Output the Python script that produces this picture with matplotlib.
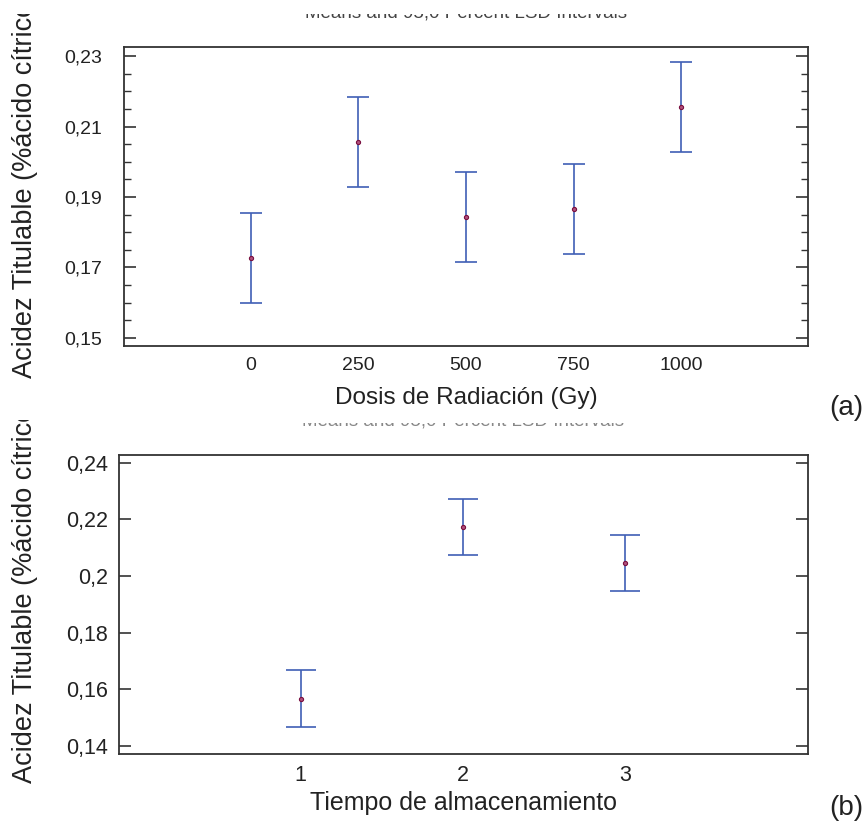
import matplotlib
matplotlib.use("Agg")
import matplotlib.pyplot as plt
from matplotlib.ticker import FuncFormatter, MultipleLocator
from matplotlib.patches import Rectangle

plt.rcParams['font.family'] = ['Liberation Sans', 'DejaVu Sans']

# panel (a): dose
dosis = [0, 250, 500, 750, 1000]
acidez_dosis = [0.1727, 0.2056, 0.1843, 0.1866, 0.2156]
lsd_dosis = [0.0128, 0.0128, 0.0128, 0.0128, 0.0128]
yticks_a = [0.15, 0.17, 0.19, 0.21, 0.23]

# panel (b): storage time
tiempo = [1, 2, 3]
acidez_tiempo = [0.1567, 0.2173, 0.2046]
lsd_tiempo = [0.0100, 0.0100, 0.0100]
yticks_b = [0.14, 0.16, 0.18, 0.20, 0.22, 0.24]

titulo = "Means and 95,0 Percent LSD Intervals"
ylab = "Acidez Titulable (%ácido cítrico)"

W, H = 867, 824
fig = plt.figure(figsize=(W / 100, H / 100), dpi=100)


def box(l, t, r, b):
    return [l / W, 1 - b / H, (r - l) / W, (b - t) / H]


def fx(x):
    return x / W


def fy(y):
    return 1 - y / H


coma = FuncFormatter(lambda v, p: f"{v:g}".replace('.', ','))
azul = '#3f5fb5'
frame = '#333333'


def estilo(ax, pad):
    for s in ax.spines.values():
        s.set_color(frame)
        s.set_linewidth(1.3)
    ax.tick_params(axis='y', which='major', direction='in', length=8.5, width=1.2,
                   color=frame, right=True, left=True, pad=pad)
    ax.tick_params(axis='y', which='minor', direction='in', length=4.8, width=1.0,
                   color=frame, right=True, left=True)
    ax.tick_params(axis='x', length=0, pad=8)
    ax.yaxis.set_major_formatter(coma)
    for lab in ax.get_xticklabels() + ax.get_yticklabels():
        lab.set_color('#222222')


# (a)
ax1 = fig.add_axes(box(124, 47, 808, 346))
ax1.errorbar(dosis, acidez_dosis, yerr=lsd_dosis, fmt='none', ecolor=azul,
             elinewidth=1.2, capsize=7.8, capthick=1.2)
ax1.plot(dosis, acidez_dosis, 'o', ms=3, mfc='#b0507a', mec='#7a1040', mew=0.8)
ax1.set_xlim(-295, 1295)
ax1.set_ylim(0.1477, 0.2326)
ax1.set_xticks(dosis)
ax1.set_yticks(yticks_a)
ax1.yaxis.set_minor_locator(MultipleLocator(0.005))
ax1.tick_params(labelsize=14)
estilo(ax1, 16)

# (b)
ax2 = fig.add_axes(box(119, 455, 808, 754))
ax2.errorbar(tiempo, acidez_tiempo, yerr=lsd_tiempo, fmt='none', ecolor=azul,
             elinewidth=1.2, capsize=10.8, capthick=1.2)
ax2.plot(tiempo, acidez_tiempo, 'o', ms=3, mfc='#b0507a', mec='#7a1040', mew=0.8)
ax2.set_xlim(-0.12, 4.13)
ax2.set_ylim(0.1371, 0.2428)
ax2.set_xticks(tiempo)
ax2.set_yticks(yticks_b)
ax2.tick_params(labelsize=15.5)
estilo(ax2, 8)

# cropped titles (only the bottom sliver shows in the original)
fig.text(fx(466), fy(17), titulo, ha='center', va='baseline', fontsize=13.5, color='#444444')
fig.text(fx(463), fy(425), titulo, ha='center', va='baseline', fontsize=13.5, color='#888888')

# axis labels
fig.text(fx(466), fy(404), "Dosis de Radiación (Gy)", ha='center', va='baseline',
         fontsize=17.5, color='#222222')
fig.text(fx(464), fy(810), "Tiempo de almacenamiento", ha='center', va='baseline',
         fontsize=18, color='#222222')
fig.text(fx(25), fy(378), ylab, rotation=90, ha='center', va='bottom',
         fontsize=19.5, color='#222222')
fig.text(fx(25), fy(783), ylab, rotation=90, ha='center', va='bottom',
         fontsize=19.5, color='#222222')

fig.text(fx(863), fy(408), "(a)", ha='right', va='center', fontsize=20, color='#222222')
fig.text(fx(863), fy(808), "(b)", ha='right', va='center', fontsize=20, color='#222222')

# white bands where the source images were cropped
for l, t, r, b in [(0, -40, W, 14), (0, 380, 60, 420), (250, 410, 680, 422.5)]:
    fig.patches.append(Rectangle((fx(l), fy(b)), (r - l) / W, (b - t) / H,
                                 transform=fig.transFigure, facecolor='white',
                                 edgecolor='none', zorder=10))

fig.savefig("out.png", dpi=100)
